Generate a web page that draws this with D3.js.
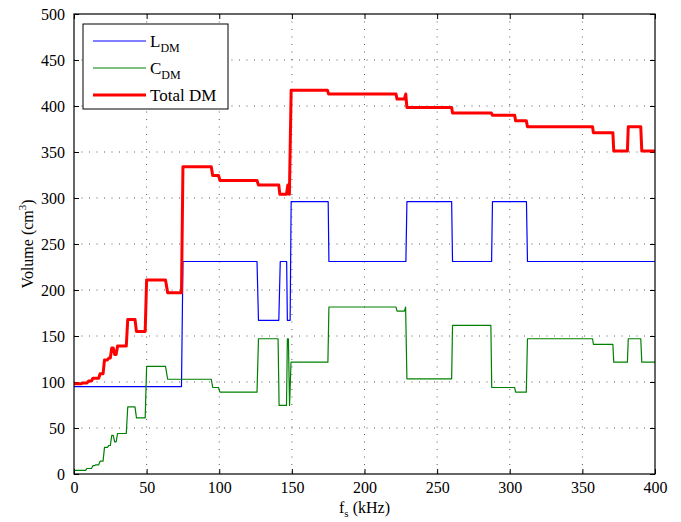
<!DOCTYPE html>
<html>
<head>
<meta charset="utf-8">
<script src="https://cdn.jsdelivr.net/npm/d3@7"></script>
<style>
  body { margin: 0; background: #fff; }
  svg text { font-family: "Liberation Serif", "Times New Roman", Times, serif; fill: #000; }
</style>
</head>
<body>
<div id="chart"></div>
<script>
// vertices [fs (kHz), volume (cm3)]
const lDM = [
  [0, 95], [74, 95], [75, 231], [126, 231], [127, 167], [141, 167], [142, 231],
  [146.4, 231], [146.9, 167], [148.8, 167], [149.5, 296], [175, 296], [175.5, 231],
  [228.5, 231], [229.2, 296], [260, 296], [260.6, 231], [287.5, 231], [288.1, 296],
  [311.5, 296], [312.2, 231], [400, 231]
];

const cDM = [
  [0, 4], [8, 4], [9, 6], [12, 6], [13, 9], [14, 9], [15, 10], [17, 10], [18, 14],
  [20, 14], [21, 29], [23, 29], [24, 31], [25, 31], [26, 42], [27, 42], [28, 35],
  [29, 35], [30, 44], [36, 44], [37, 73], [42, 73], [43, 61], [49, 61], [50, 117],
  [63, 117], [64.5, 103], [94.5, 103], [95.5, 94], [99.5, 94], [100.5, 89],
  [126, 89], [127, 147], [140.5, 147], [141.2, 74.5], [146.3, 74.5], [146.9, 147],
  [147.6, 147], [148.4, 74.5], [149.4, 121.5], [174.8, 121.5], [175.5, 181.5],
  [221.7, 181.5], [222.4, 177], [227.5, 177], [228.3, 181.5], [229.2, 103.5],
  [260, 103.5], [260.6, 161.5], [287, 161.5], [287.6, 94], [303.4, 94], [304, 89],
  [311.4, 89], [312.2, 147], [357, 147], [357.6, 141], [371, 141], [371.6, 121.5],
  [381, 121.5], [381.6, 147], [390.2, 147], [390.9, 121.5], [400, 121.5]
];

const totalDM = [
  [0, 98], [5, 98], [6, 99], [9, 99], [10, 101], [12, 101], [13, 104], [17, 104],
  [18, 109], [20, 109], [21, 124], [23, 124], [24, 126], [25, 126], [26, 137],
  [27, 137], [28, 130], [29, 130], [30, 139], [36, 139], [37, 168], [42, 168],
  [43, 155], [49, 155], [50, 211], [63, 211], [64.5, 197], [74, 197], [75, 334],
  [94.5, 334], [95.5, 324.5], [99.5, 324.5], [100.5, 319], [126, 319], [127, 314],
  [141, 314], [141.7, 304], [146.3, 304], [147.2, 314], [148.3, 304], [149.5, 417],
  [174.5, 417], [175.3, 413], [221.7, 413], [222.4, 407.5], [227.4, 407.5],
  [228.4, 413], [229.2, 398.5], [260, 398.5], [260.6, 392.5], [287.3, 392.5],
  [288, 390], [303.4, 390], [304, 384], [311.4, 384], [312.2, 377.5], [357, 377.5],
  [357.6, 371], [371, 371], [371.6, 351], [381, 351], [381.6, 377.5], [390.2, 377.5],
  [390.9, 351], [400, 351]
];

const xTicks = [0, 50, 100, 150, 200, 250, 300, 350, 400];
const yTicks = [0, 50, 100, 150, 200, 250, 300, 350, 400, 450, 500];

const series = [
  { name: "L", sub: "DM", data: lDM, color: "#0000ff", width: 1.2 },
  { name: "C", sub: "DM", data: cDM, color: "#008000", width: 1.2 },
  { name: "Total DM", sub: "", data: totalDM, color: "#ff0000", width: 3 }
];

const width = 681;
const height = 522;
const margin = { top: 14, right: 26, bottom: 48, left: 74 };
const w = width - margin.left - margin.right;
const h = height - margin.top - margin.bottom;

const x = d3.scaleLinear().domain([0, 400]).range([0, w]);
const y = d3.scaleLinear().domain([0, 500]).range([h, 0]);

const svg = d3.select("#chart").append("svg")
  .attr("width", width)
  .attr("height", height);

const g = svg.append("g")
  .attr("transform", `translate(${margin.left},${margin.top})`);

// dotted grid
g.append("g").selectAll("line")
  .data(xTicks.slice(1, -1))
  .join("line")
  .attr("x1", d => x(d)).attr("x2", d => x(d))
  .attr("y1", 0).attr("y2", h)
  .attr("stroke", "#333").attr("stroke-width", 0.8)
  .attr("stroke-dasharray", "1,6.5");

g.append("g").selectAll("line")
  .data(yTicks.slice(1, -1))
  .join("line")
  .attr("x1", 0).attr("x2", w)
  .attr("y1", d => y(d)).attr("y2", d => y(d))
  .attr("stroke", "#333").attr("stroke-width", 0.8)
  .attr("stroke-dasharray", "1,6.5");

// axes, ticks pointing inward on all four sides
const axisFont = 16;
const xAxis = g.append("g")
  .attr("transform", `translate(0,${h})`)
  .call(d3.axisBottom(x).tickValues(xTicks).tickSizeInner(-5).tickSizeOuter(0).tickPadding(8));
const yAxis = g.append("g")
  .call(d3.axisLeft(y).tickValues(yTicks).tickSizeInner(-5).tickSizeOuter(0).tickPadding(9));
g.append("g")
  .call(d3.axisTop(x).tickValues(xTicks).tickSizeInner(-5).tickSizeOuter(0).tickFormat(""));
g.append("g")
  .attr("transform", `translate(${w},0)`)
  .call(d3.axisRight(y).tickValues(yTicks).tickSizeInner(-5).tickSizeOuter(0).tickFormat(""));

g.selectAll(".domain").remove();
g.selectAll(".tick line").attr("stroke", "#000");
[xAxis, yAxis].forEach(a => {
  a.attr("font-family", null);
  a.selectAll("text").attr("font-size", axisFont);
});

// lines
const line = d3.line().x(d => x(d[0])).y(d => y(d[1]));
series.forEach(s => {
  g.append("path")
    .datum(s.data)
    .attr("fill", "none")
    .attr("stroke", s.color)
    .attr("stroke-width", s.width)
    .attr("stroke-linejoin", "round")
    .attr("d", line);
});

// box
g.append("rect")
  .attr("width", w).attr("height", h)
  .attr("fill", "none").attr("stroke", "#000").attr("stroke-width", 1.2);

// axis labels
const xl = svg.append("text")
  .attr("x", margin.left + w / 2)
  .attr("y", 513)
  .attr("text-anchor", "middle")
  .attr("font-size", 16);
xl.append("tspan").text("f");
xl.append("tspan").attr("font-size", 11).attr("dy", 4).text("s");
xl.append("tspan").attr("dy", -4).text(" (kHz)");

const yl = svg.append("text")
  .attr("transform", `translate(33,${margin.top + h / 2}) rotate(-90)`)
  .attr("text-anchor", "middle")
  .attr("font-size", 16);
yl.append("tspan").text("Volume (cm");
yl.append("tspan").attr("font-size", 11).attr("dy", -7).text("3");
yl.append("tspan").attr("dy", 7).text(")");

// legend
const legend = svg.append("g").attr("transform", "translate(83,24)");
legend.append("rect")
  .attr("width", 145).attr("height", 85)
  .attr("fill", "#fff").attr("stroke", "#000").attr("stroke-width", 1);
series.forEach((s, i) => {
  const ly = 17 + i * 27;
  legend.append("line")
    .attr("x1", 10).attr("x2", 63)
    .attr("y1", ly).attr("y2", ly)
    .attr("stroke", s.color).attr("stroke-width", s.width);
  const t = legend.append("text")
    .attr("x", 67).attr("y", ly + 6)
    .attr("font-size", 17);
  t.append("tspan").text(s.name);
  if (s.sub) t.append("tspan").attr("font-size", 12).attr("dy", 5).text(s.sub);
});
</script>
</body>
</html>
